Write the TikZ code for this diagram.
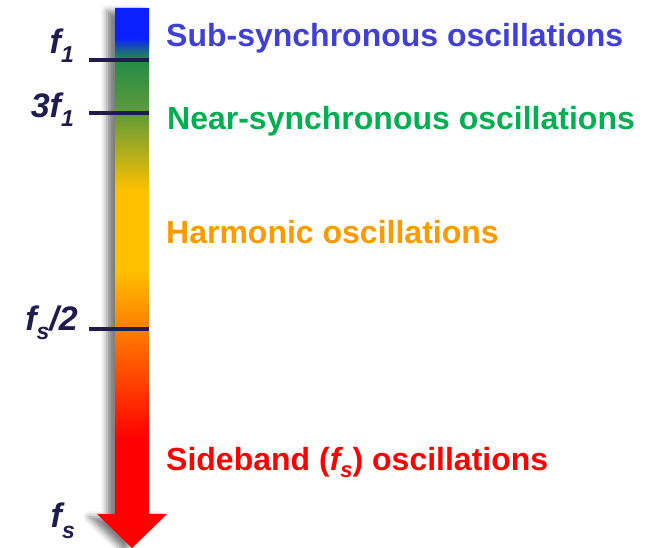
\documentclass[tikz,border=0pt]{standalone}
\usepackage{fontspec}
\setmainfont{Liberation Sans}
\usetikzlibrary{shadows.blur}
\definecolor{navy}{HTML}{211C50}
\definecolor{subblue}{HTML}{4040D8}
\definecolor{neargreen}{HTML}{00B050}
\definecolor{harmorange}{HTML}{FF9900}
\definecolor{sidered}{HTML}{FF0000}
\definecolor{gBlue}{HTML}{0A20FF}
\definecolor{gGreen}{HTML}{228B48}
\definecolor{gOlive}{HTML}{5E9B38}
\definecolor{gGold}{HTML}{FFC000}
\definecolor{gRed}{HTML}{FF0000}
\pgfdeclareverticalshading{spectrum}{100bp}{color(0bp)=(gRed); color(35bp)=(gRed); color(50.74bp)=(gGold); color(58.15bp)=(gGold); color(65.28bp)=(gOlive); color(70.37bp)=(gGreen); color(72.22bp)=(gBlue); color(100bp)=(gBlue)}
\begin{document}
\begin{tikzpicture}[x=1pt,y=-1pt,
  freqlabel/.style={font=\fontsize{34}{34}\selectfont\bfseries\itshape, text=navy, anchor=base east, inner sep=0pt},
  bandlabel/.style={font=\fontsize{32}{36}\selectfont\bfseries, anchor=base west, inner sep=0pt},
  tick/.style={draw=navy, line width=4pt}]
\useasboundingbox (0,0) rectangle (649,548);
% arrow
\path[shading=spectrum, blur shadow={shadow xshift=-8pt, shadow yshift=-3pt, shadow blur radius=6pt, shadow opacity=50}]
  (115,8) -- (149,8) -- (149,514) -- (167,514) -- (132,548) -- (97,514) -- (115,514) -- cycle;
% tick coordinates
\coordinate (t1a) at (89,60);  \coordinate (t1b) at (149,60);
\coordinate (t2a) at (89,113); \coordinate (t2b) at (149,113);
\coordinate (t3a) at (89,329); \coordinate (t3b) at (149,329);
\draw[tick] (t1a) -- (t1b);
\draw[tick] (t2a) -- (t2b);
\draw[tick] (t3a) -- (t3b);
% frequency labels
\node[freqlabel] (lf1) at (74,54) {f\raisebox{-9pt}{\fontsize{23}{23}\selectfont 1}};
\node[freqlabel] (l3f1) at (74,118) {3f\raisebox{-9pt}{\fontsize{23}{23}\selectfont 1}};
\node[freqlabel] (lfs2) at (78,331) {f\raisebox{-9pt}{\fontsize{23}{23}\selectfont s}/2};
\node[freqlabel] (lfs) at (75,528) {f\raisebox{-10pt}{\fontsize{23}{23}\selectfont s}};
% band labels
\node[bandlabel, text=subblue] (bsub) at (166,47) {Sub-synchronous oscillations};
\node[bandlabel, text=neargreen] (bnear) at (167,130) {Near-synchronous oscillations};
\node[bandlabel, text=harmorange] (bharm) at (166,244) {Harmonic oscillations};
\node[bandlabel, text=sidered] (bside) at (166,471) {Sideband (\textit{f\raisebox{-7pt}{\fontsize{22}{22}\selectfont s}}) oscillations};
\end{tikzpicture}
\end{document}
